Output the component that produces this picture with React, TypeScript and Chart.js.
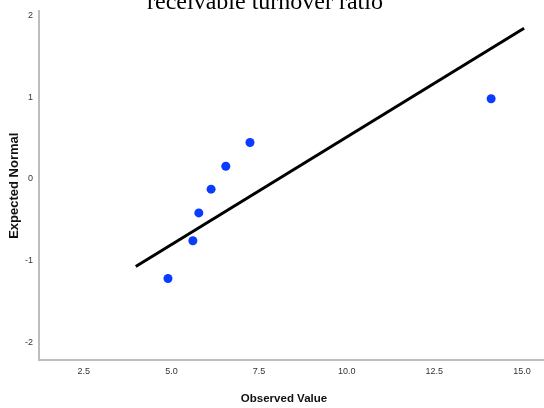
import React, { useEffect, useRef } from "react";
import { Chart, registerables } from "chart.js";

Chart.register(...registerables);

const observedValues = [4.9, 5.61, 5.78, 6.13, 6.55, 7.24, 14.12];
const expectedNormal = [-1.222, -0.76, -0.419, -0.128, 0.152, 0.444, 0.979];
const lineX = [3.98, 15.06];
const lineY = [-1.076, 1.842];
const titleText = "receivable turnover ratio";
const xTitle = "Observed Value";
const yTitle = "Expected Normal";

const titlePlugin = {
  id: "topTitle",
  afterDraw(chart: any) {
    const ctx = chart.ctx;
    ctx.save();
    ctx.fillStyle = "#000";
    ctx.font = '24px "Liberation Serif"';
    ctx.textAlign = "center";
    ctx.textBaseline = "alphabetic";
    ctx.fillText(titleText, 265, 9);
    ctx.fillStyle = "#111";
    ctx.font = 'bold 11.5px "Liberation Sans"';
    ctx.textBaseline = "middle";
    ctx.fillText(xTitle, 284, 399);
    ctx.restore();
  },
};

export default function App() {
  const ref = useRef<HTMLCanvasElement | null>(null);
  useEffect(() => {
    if (!ref.current) return;
    const chart = new Chart(ref.current, {
      type: "scatter",
      data: {
        datasets: [
          {
            type: "line",
            data: lineX.map((x, i) => ({ x, y: lineY[i] })),
            borderColor: "#000",
            borderWidth: 3,
            pointRadius: 0,
            fill: false,
          },
          {
            type: "scatter",
            data: observedValues.map((x, i) => ({ x, y: expectedNormal[i] })),
            backgroundColor: "#0a3cff",
            borderColor: "#0a3cff",
            borderWidth: 0,
            pointRadius: 4.5,
          },
        ] as any,
      },
      options: {
        animation: false,
        responsive: true,
        maintainAspectRatio: false,
        layout: { autoPadding: false, padding: { top: 9, right: 1, left: 0, bottom: 0 } },
        plugins: { legend: { display: false }, tooltip: { enabled: false } },
        scales: {
          x: {
            type: "linear",
            min: 1.22,
            max: 15.6,
            grid: { display: false, drawTicks: false },
            border: { display: true, color: "#bdbdbd", width: 2 },
            ticks: {
              stepSize: 2.5,
              includeBounds: false,
              padding: 6,
              color: "#333",
              font: { family: '"Liberation Sans"', size: 9 },
              callback: (v: any) => Number(v).toFixed(1),
            },
            title: { display: false },
            afterFit: (s: any) => {
              s.height = 48;
            },
          },
          y: {
            type: "linear",
            min: -2.22,
            max: 2.049,
            grid: { display: false, drawTicks: false },
            border: { display: true, color: "#bdbdbd", width: 2 },
            ticks: {
              stepSize: 1,
              includeBounds: false,
              padding: 6,
              color: "#333",
              font: { family: '"Liberation Sans"', size: 9 },
              callback: (v: any) => String(Math.round(Number(v))),
            },
            title: {
              display: true,
              text: yTitle,
              color: "#111",
              padding: { top: 7, bottom: 0 },
              font: { family: '"Liberation Sans"', size: 13, weight: "bold" },
            },
            afterFit: (s: any) => {
              s.width = 39;
            },
          },
        },
      } as any,
      plugins: [titlePlugin],
    });
    return () => chart.destroy();
  }, []);
  return (
    <div style={{ position: "absolute", left: 0, top: 0, width: 544, height: 408, background: "#fff" }}>
      <canvas ref={ref} />
    </div>
  );
}
